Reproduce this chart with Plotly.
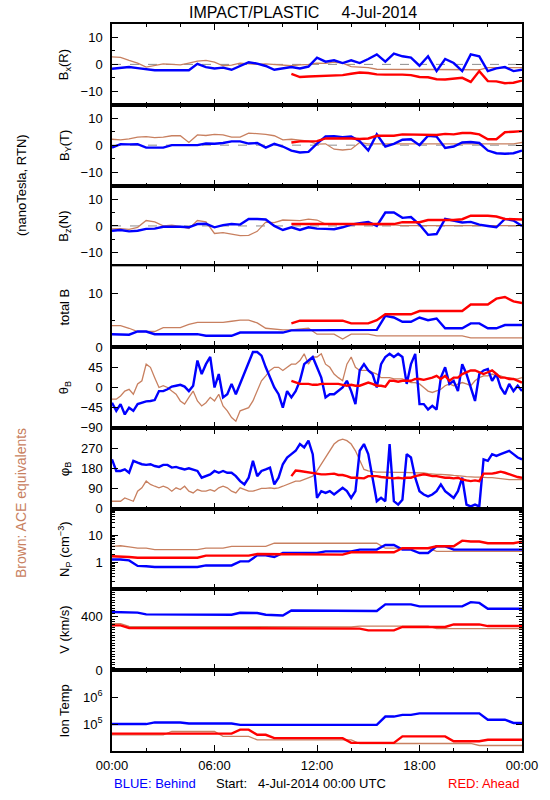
import plotly.graph_objects as go
from plotly.subplots import make_subplots

# ---------------- data (hours since 00:00 UTC, 4-Jul-2014) ----------------
HOURS = [h / 2 for h in range(49)]      # half-hourly samples
HOURS_Q = [h / 4 for h in range(97)]    # quarter-hourly samples (angle panels)
NO_MAG = [None] * 21                    # Ahead magnetic data missing before ~10:30
NO_MAG_Q = [None] * 42

BX_BLUE = [-1.6, -1.2, -1.0, -1.4, -1.8, -2.2, -2.2, -2.2, -2.2, -2.2, 0.2, -1.0, -1.5, -1.2,
           -2.0, -0.5, 0.8, 0.3, -0.6, -2.0, -1.5, -1.0, -1.5, -0.8, 2.5, 1.0, 1.5, 0.5, 1.5,
           0.5, 2.0, 3.7, 1.0, 4.0, 3.0, 2.5, -0.5, 3.0, -2.5, 2.0, 0.5, -2.5, 3.7, 3.0, -2.5,
           -1.5, -1.0, -2.5, -2.0]
BX_BROWN = [2.8, 2.6, 1.5, 0.5, -1.0, -0.3, 0.2, 0.0, -0.2, 0.5, 1.2, 1.5, 0.8, -0.5, -0.3, 0.5,
            0.3, 0.0, 0.2, 0.0, -0.3, -0.5, -0.2, 0.0, 0.5, 0.4, 0.8, 0.5, -0.8, -1.0, -1.2,
            -1.8, -1.8, -1.8, -1.8, -1.8, -1.8, -1.8, -2.0, -2.0, -2.0, -2.0, -2.0, -2.0, -1.2,
            -1.2, -1.2, -1.2, -1.2]
BX_RED = NO_MAG + [-3.5, -4.7, -4.5, -4.4, -4.3, -4.3, -4.0, -3.5, -3.0, -3.2, -3.7, -3.8, -3.7,
                   -3.8, -4.0, -4.7, -4.8, -5.5, -5.6, -5.3, -5.0, -6.5, -2.5, -6.2, -6.3, -7.0,
                   -6.8, -6.0]

BY_BLUE = [-0.9, 0.4, 0.3, 0.4, -0.9, -0.8, -0.9, 0.0, 0.0, -0.2, 0.0, 0.6, 0.5, 0.8, 1.4, 1.4,
           0.6, 0.8, -0.9, 0.5, -0.5, -2.0, -2.7, -2.5, 0.6, 3.2, 3.3, 3.0, 3.2, 1.5, -2.0, 4.0,
           -0.5, 0.5, 2.0, 2.2, 0.0, 3.5, 3.2, -1.0, -0.5, 1.0, 1.2, 0.8, -2.0, -3.0, -3.2,
           -3.0, -2.0]
BY_BROWN = [2.2, 2.0, 2.3, 3.0, 3.2, 2.8, 3.0, 3.5, 3.5, 1.0, 3.8, 3.6, 4.0, 3.8, 3.0, 3.0, 4.5,
            4.3, 4.0, 3.5, 2.0, 2.2, 1.8, 1.5, 0.4, 0.5, -1.5, -1.8, -1.5, 1.0, 0.5, 0.5, 0.5,
            0.5, 0.5, 0.5, 0.5, 0.5, 0.5, 0.5, 0.5, 0.5, 0.5, 0.5, 0.5, 0.5, 0.5, 0.5, 1.0]
BY_RED = NO_MAG + [1.0, 1.4, 1.4, 1.5, 2.5, 2.5, 2.7, 2.5, 2.3, 2.5, 3.5, 3.5, 3.5, 4.0, 4.0,
                   4.0, 4.0, 3.8, 4.2, 4.0, 4.5, 4.5, 4.0, 2.2, 2.2, 4.8, 5.0, 5.2]

BZ_BLUE = [-1.8, -1.5, -2.0, -1.8, -1.1, -1.0, -0.3, -0.2, -0.3, -0.5, 0.7, 0.8, -0.5, 0.3, 0.7,
           0.5, 2.6, 2.6, 2.4, 0.0, -1.5, -0.5, -1.5, -0.5, -1.0, -1.1, -1.2, -0.5, 0.5, 1.0,
           1.5, 0.0, 5.0, 5.0, 3.0, 3.3, 0.5, -3.3, -3.0, 2.6, 2.0, 1.3, 1.5, 0.5, 0.0, -0.5,
           2.6, 2.0, 0.0]
BZ_BROWN = [-1.1, -1.0, -1.3, -0.5, 2.0, 1.5, 0.0, 0.3, -0.2, -1.0, 2.0, 1.5, -2.8, -2.5, -3.0,
            -3.6, -3.5, -2.0, 1.4, 1.2, 2.2, 2.2, 2.0, 2.5, 2.2, 0.7, 0.8, 0.7, 0.5, 0.4, 0.4,
            0.4, 0.4, 0.4, 0.1, 0.1, 0.1, 0.1, 0.1, 0.1, 0.1, 0.1, 0.1, 0.1, 0.1, 0.1, 0.1, 0.1,
            0.1]
BZ_RED = NO_MAG + [0.7, 0.7, 0.7, 0.7, 0.7, 0.7, 0.7, 0.7, 0.7, 0.7, 0.7, 0.7, 0.7, 1.4, 1.4,
                   1.4, 2.2, 2.2, 2.0, 2.2, 2.5, 3.8, 3.8, 3.8, 3.5, 2.6, 2.5, 2.4]

BT_BLUE = [2.4, 2.4, 2.3, 2.9, 2.9, 2.4, 2.4, 2.4, 2.4, 2.4, 2.4, 2.1, 2.1, 2.1, 2.1, 2.7, 2.7,
           2.7, 2.7, 2.7, 2.7, 3.1, 3.1, 3.1, 3.1, 3.1, 3.1, 3.2, 3.2, 3.2, 3.2, 3.2, 5.8, 5.5,
           4.7, 4.7, 5.5, 5.0, 5.3, 3.5, 3.5, 3.5, 4.4, 4.4, 3.5, 3.5, 4.1, 4.1, 4.1]
BT_BROWN = [4.0, 4.0, 3.5, 2.9, 2.9, 2.9, 3.6, 3.6, 3.6, 4.2, 4.6, 4.6, 4.6, 4.6, 4.8, 5.0, 5.0,
            4.5, 3.5, 3.3, 3.2, 3.2, 3.3, 3.5, 2.4, 2.4, 2.4, 1.5, 2.4, 2.4, 2.4, 2.1, 2.1, 2.1,
            2.1, 2.1, 2.1, 2.1, 2.1, 2.1, 2.1, 2.1, 1.7, 1.7, 1.7, 1.7, 1.7, 1.7, 1.7]
BT_RED = NO_MAG + [4.4, 4.9, 4.9, 4.9, 4.9, 4.9, 4.9, 4.4, 4.4, 4.4, 5.0, 6.1, 6.1, 6.1, 6.1,
                   6.7, 6.7, 6.7, 6.7, 6.7, 6.7, 7.9, 7.9, 7.9, 9.0, 9.3, 8.5, 8.2]

# quarter-hourly angle data
TH_BLUE = [-34, -52, -37, -60, -45, -52, -37, -34, -31, -30, -28, -8, -8, -4, 2, 4,
           6, 2, -8, 4, 60, 30, 52, 68, 0, 30, -22, -15, 8, -15, 8, 30,
           52, 79, 79, 71, 45, 22, 0, -15, -45, -8, -22, -8, 15, 52, 60, 68,
           45, 22, -22, -15, -15, -8, 0, 15, -8, -37, 38, 52, 38, 30, 0, 52,
           68, 75, 68, 75, 68, 8, 52, 75, -37, -37, -49, -41, -49, 22, 45, 8,
           15, -8, 52, 30, 0, -30, 30, 38, 41, 15, 30, 0, -15, 8, -8, 4, -8]
TH_BROWN = [-26, -26, -19, -8, -4, -15, 8, 15, 52, 45, 22, 0, 4, 0, -8, -15,
            -30, -37, -22, -8, -30, -41, -34, -22, -30, -15, -41, -52, -67, -75, -52, -49,
            -45, -30, -8, 15, 26, 38, 45, 45, 38, 45, 52, 52, 60, 75, 52, 68,
            68, 75, 52, 45, 30, 22, 15, 52, 68, 45, 38, 38, 38, 34, 30, 22,
            22, 22, 19, 19, 19, 15, 11, 11, 8, 0, -8, -11, -8, -4, 4, 8,
            4, 8, 11, 8, 4, 15, 22, 26, 26, 30, 26, 26, 22, 22, 19, 19, 22]
TH_RED = NO_MAG_Q + [15, 11, 8, 8, 8, 6, 6, 8, 8, 9, 9, 8, 6, 4, 6, 4, 4, 8, 11, 8, 4, 4,
                     2, 15, 15, 13, 15, 15, 15, 19, 19, 17, 19, 22, 26, 19, 26, 15,
                     22, 22, 30, 34, 38, 38, 34, 30, 34, 38, 30, 22, 22, 19, 19, 15, 11]

PH_BLUE = [220, 168, 168, 175, 160, 213, 205, 198, 195, 198, 190, 186, 195, 195, 183, 186,
           180, 175, 180, 175, 168, 138, 145, 153, 168, 160, 168, 160, 160, 145, 123, 108,
           138, 213, 145, 168, 175, 183, 108, 138, 198, 228, 243, 258, 288, 273, 303, 243,
           48, 78, 70, 78, 63, 78, 93, 78, 48, 78, 258, 288, 243, 138, 33, 48,
           33, 288, 33, 18, 40, 243, 228, 138, 78, 63, 55, 63, 78, 108, 78, 63,
           48, 78, 138, 18, 10, 18, 10, 220, 213, 243, 235, 243, 250, 258, 243, 228, 220]
PH_BROWN = [33, 33, 33, 48, 40, 33, 78, 93, 123, 108, 100, 93, 100, 93, 78, 93,
            85, 100, 78, 70, 85, 78, 78, 85, 78, 93, 100, 93, 78, 70, 93, 85,
            78, 78, 85, 90, 90, 93, 90, 93, 100, 108, 115, 123, 123, 130, 138, 145,
            168, 198, 228, 258, 288, 303, 310, 303, 288, 258, 213, 175, 168, 165, 163, 163,
            162, 162, 162, 162, 162, 162, 162, 162, 160, 159, 156, 153, 153, 153, 150, 150,
            148, 145, 145, 143, 141, 141, 141, 138, 138, 138, 135, 132, 130, 129, 129, 130,
            130]
PH_RED = NO_MAG_Q + [145, 170, 168, 165, 160, 160, 156, 153, 153, 153, 156, 150, 150, 145,
                     138, 138, 135, 135, 145, 145, 145, 141, 138, 135, 135, 138, 135, 138,
                     138, 145, 150, 153, 150, 145, 145, 141, 138, 138, 135, 138, 130, 126,
                     123, 126, 123, 156, 156, 156, 160, 165, 160, 153, 145, 141, 138]

NP_BLUE = [1.3, 1.3, 1.2, 0.75, 0.73, 0.68, 0.68, 0.68, 0.68, 0.68, 0.68, 0.78, 0.78, 0.78, 0.78,
           1.1, 1.1, 1.85, 1.85, 1.6, 2.25, 2.25, 2.25, 2.25, 2.25, 2.6, 2.6, 2.6, 2.6, 3.0, 3.0,
           3.0, 4.5, 4.5, 3.0, 3.0, 2.25, 2.25, 4.0, 4.0, 3.0, 3.0, 3.0, 3.0, 3.0, 3.0, 3.0, 3.0,
           3.0]
NP_RED = [1.7, 1.7, 1.6, 1.5, 1.5, 1.5, 1.5, 1.5, 1.5, 1.5, 1.5, 1.8, 1.8, 1.8, 1.8, 1.8, 1.8,
          2.07, 2.07, 2.07, 1.96, 1.96, 1.96, 1.96, 1.96, 1.96, 1.96, 1.96, 2.4, 2.4, 2.4, 2.4,
          2.4, 2.4, 3.4, 3.4, 3.4, 3.4, 4.0, 4.0, 4.0, 6.5, 6.0, 6.0, 5.2, 5.2, 5.2, 5.2, 6.0]
NP_BROWN = [4.0, 4.2, 3.8, 3.4, 3.4, 3.0, 3.0, 3.0, 3.0, 3.0, 3.0, 3.4, 3.4, 3.4, 4.0, 4.0, 4.0,
            4.0, 4.0, 5.2, 5.2, 5.2, 5.2, 5.2, 5.2, 5.2, 5.2, 5.2, 5.2, 5.2, 5.2, 5.2, 3.4, 3.4,
            3.4, 3.4, 3.4, 3.4, 2.6, 2.6, 2.6, 2.6, 2.6, 2.6, 2.6, 2.6, 2.6, 2.6, 2.6]

V_BLUE = [432, 432, 430, 428, 415, 415, 415, 415, 415, 412, 412, 412, 412, 412, 412, 427, 427,
          425, 412, 412, 407, 444, 444, 444, 444, 440, 440, 440, 440, 440, 440, 440, 489, 489,
          489, 489, 474, 474, 474, 474, 474, 474, 506, 500, 457, 457, 457, 457, 457]
V_RED = [333, 333, 314, 314, 314, 314, 314, 314, 314, 314, 314, 314, 314, 314, 314, 314, 314,
         314, 314, 309, 309, 309, 309, 309, 309, 309, 309, 309, 309, 309, 296, 296, 296, 296,
         321, 321, 321, 321, 321, 321, 340, 340, 340, 340, 328, 328, 328, 328, 328]
V_BROWN = [346, 346, 326, 326, 326, 326, 326, 326, 326, 326, 326, 326, 326, 326, 326, 326, 326,
           326, 326, 321, 321, 321, 321, 321, 321, 321, 321, 321, 321, 328, 328, 328, 328, 328,
           328, 328, 328, 328, 309, 309, 309, 309, 309, 309, 309, 309, 309, 309, 309]

T_BLUE = [1.0e5, 1.0e5, 1.0e5, 1.0e5, 1.0e5, 1.15e5, 1.15e5, 1.15e5, 1.15e5, 1.05e5, 1.05e5,
          1.05e5, 1.05e5, 1.05e5, 1.05e5, 0.93e5, 0.93e5, 0.93e5, 0.93e5, 0.93e5, 0.93e5,
          0.93e5, 0.93e5, 0.93e5, 0.93e5, 0.93e5, 0.93e5, 0.93e5, 0.93e5, 0.93e5, 0.93e5,
          0.93e5, 1.9e5, 1.9e5, 2.2e5, 2.2e5, 2.5e5, 2.5e5, 2.5e5, 2.5e5, 2.5e5, 2.5e5, 2.5e5,
          2.5e5, 1.45e5, 1.45e5, 1.45e5, 1.1e5, 1.1e5]
T_RED = [4.4e4, 4.4e4, 4.4e4, 4.4e4, 4.4e4, 4.4e4, 4.4e4, 4.4e4, 4.4e4, 4.4e4, 4.4e4, 4.4e4,
         4.4e4, 4.4e4, 4.4e4, 6.2e4, 6.2e4, 4.0e4, 4.0e4, 3.0e4, 3.0e4, 3.0e4, 3.0e4, 3.0e4,
         3.0e4, 3.0e4, 3.0e4, 3.0e4, 2.0e4, 2.0e4, 2.0e4, 2.0e4, 2.0e4, 2.0e4, 3.5e4, 3.5e4,
         3.5e4, 3.5e4, 3.5e4, 3.5e4, 2.3e4, 2.3e4, 2.3e4, 2.3e4, 2.6e4, 2.6e4, 2.6e4, 2.6e4,
         2.6e4]
T_BROWN = [4.0e4, 4.0e4, 4.0e4, 4.0e4, 4.0e4, 4.0e4, 4.0e4, 5.3e4, 5.3e4, 5.3e4, 5.3e4, 5.3e4,
           5.3e4, 3.5e4, 3.5e4, 3.5e4, 3.5e4, 2.6e4, 2.6e4, 2.6e4, 2.6e4, 2.6e4, 2.6e4, 2.6e4,
           2.6e4, 2.6e4, 2.6e4, 2.6e4, 2.6e4, 1.9e4, 1.9e4, 1.9e4, 1.9e4, 1.9e4, 1.9e4, 1.9e4,
           1.9e4, 1.9e4, 1.9e4, 1.9e4, 1.9e4, 1.9e4, 1.9e4, 1.6e4, 1.6e4, 1.6e4, 1.6e4, 1.6e4,
           1.6e4]

X_TICKS = [0, 6, 12, 18, 24]
X_TICK_LABELS = ["00:00", "06:00", "12:00", "18:00", "00:00"]
NP_MINOR_TICKS = [0.2, 0.3, 0.4, 0.5, 0.6, 0.7, 0.8, 0.9, 2, 3, 4, 5, 6, 7, 8, 9,
                  20, 30, 40, 50, 60, 70, 80, 90]

# ---------------- styling ----------------
BLUE = "#0000FF"
RED = "#FF0000"
BROWN = "rgb(200,128,96)"
FONT = "Liberation Sans, Arial, sans-serif"
MINUS = "\u2212"

panels = [
    dict(label="B<sub>x</sub>(R)", x=HOURS, blue=BX_BLUE, red=BX_RED, brown=BX_BROWN,
         rng=[-15, 15], tv=[-10, 0, 10], tt=[MINUS + "10", "0", "10"],
         minor=dict(tick0=0, dtick=5), zero=True),
    dict(label="B<sub>Y</sub>(T)", x=HOURS, blue=BY_BLUE, red=BY_RED, brown=BY_BROWN,
         rng=[-15, 15], tv=[-10, 0, 10], tt=[MINUS + "10", "0", "10"],
         minor=dict(tick0=0, dtick=5), zero=True),
    dict(label="B<sub>z</sub>(N)", x=HOURS, blue=BZ_BLUE, red=BZ_RED, brown=BZ_BROWN,
         rng=[-15, 15], tv=[-10, 0, 10], tt=[MINUS + "10", "0", "10"],
         minor=dict(tick0=0, dtick=5), zero=True),
    dict(label="total B", x=HOURS, blue=BT_BLUE, red=BT_RED, brown=BT_BROWN, rng=[0, 15],
         tv=[0, 10], tt=["0", "10"], minor=dict(tick0=0, dtick=5)),
    dict(label="\u03b8<sub>B</sub>", x=HOURS_Q, blue=TH_BLUE, red=TH_RED, brown=TH_BROWN,
         rng=[-90, 90], tv=[-90, -45, 0, 45], tt=[MINUS + "90", MINUS + "45", "0", "45"],
         minor=None),
    dict(label="\u03c6<sub>B</sub>", x=HOURS_Q, blue=PH_BLUE, red=PH_RED, brown=PH_BROWN,
         rng=[0, 360], tv=[0, 90, 180, 270], tt=["0", "90", "180", "270"], minor=None),
    dict(label="N<sub>P</sub> (cm<sup>" + MINUS + "3</sup>)", x=HOURS, blue=NP_BLUE,
         red=NP_RED, brown=NP_BROWN, rng=[-1, 2], tv=[1, 10], tt=["1", "10"], log=True,
         minor=dict(tickmode="array", tickvals=NP_MINOR_TICKS)),
    dict(label="V (km/s)", x=HOURS, blue=V_BLUE, red=V_RED, brown=V_BROWN, rng=[0, 600],
         tv=[0, 400], tt=["0", "400"], minor=dict(tick0=0, dtick=20)),
    dict(label="Ion Temp", x=HOURS, blue=T_BLUE, red=T_RED, brown=T_BROWN, rng=[4, 7],
         tv=[1e5, 1e6], tt=["10<sup>5</sup>", "10<sup>6</sup>"], log=True, minor=None),
]

N = len(panels)
for p in panels:
    for k in ("blue", "red", "brown"):
        assert len(p[k]) == len(p["x"]), (p["label"], k, len(p[k]))

fig = make_subplots(rows=N, cols=1, shared_xaxes=True, vertical_spacing=0)

for i, p in enumerate(panels, start=1):
    fig.add_trace(go.Scatter(x=p["x"], y=p["brown"], mode="lines",
                             line=dict(color=BROWN, width=1.3), hoverinfo="skip"),
                  row=i, col=1)
    fig.add_trace(go.Scatter(x=p["x"], y=p["blue"], mode="lines",
                             line=dict(color=BLUE, width=2.4), hoverinfo="skip"),
                  row=i, col=1)
    fig.add_trace(go.Scatter(x=p["x"], y=p["red"], mode="lines",
                             line=dict(color=RED, width=2.4), hoverinfo="skip"),
                  row=i, col=1)
    if p.get("zero"):
        fig.add_hline(y=0, row=i, col=1, layer="below",
                      line=dict(color="rgb(140,140,140)", width=1, dash="dash"))

    yaxis = dict(range=p["rng"], tickmode="array", tickvals=p["tv"], ticktext=p["tt"],
                 ticks="inside", ticklen=6, tickwidth=1, tickcolor="black",
                 showline=True, linecolor="black", linewidth=1.5, mirror="allticks",
                 showgrid=False, zeroline=False, ticklabelstandoff=5,
                 tickfont=dict(family=FONT, size=13, color="black"))
    if p.get("log"):
        yaxis["type"] = "log"
    if p["minor"]:
        m = dict(ticks="inside", ticklen=3, tickcolor="black", showgrid=False)
        m.update(p["minor"])
        yaxis["minor"] = m
    fig.update_yaxes(row=i, col=1, **yaxis)

    fig.update_xaxes(row=i, col=1, range=[0, 24], tickmode="array", tickvals=X_TICKS,
                     ticktext=X_TICK_LABELS, ticks="inside", ticklen=6, tickcolor="black",
                     showline=True, linecolor="black", linewidth=1.5, mirror="allticks",
                     showgrid=False, zeroline=False, showticklabels=(i == N),
                     ticklabelstandoff=2,
                     tickfont=dict(family=FONT, size=13, color="black"),
                     minor=dict(tickmode="linear", tick0=0, dtick=2, ticks="inside",
                                ticklen=3, tickcolor="black", showgrid=False))

    yref = "y domain" if i == 1 else "y%d domain" % i
    fig.add_annotation(text=p["label"], xref="paper", yref=yref, x=-0.115, y=0.5,
                       textangle=-90, showarrow=False, xanchor="center", yanchor="middle",
                       font=dict(family=FONT, size=13, color="black"))

# titles and captions
fig.add_annotation(text="IMPACT/PLASTIC     4-Jul-2014", xref="paper", yref="paper",
                   x=0.466, y=1.0165, showarrow=False, xanchor="center", yanchor="middle",
                   font=dict(family=FONT, size=16, color="black"))
fig.add_annotation(text="(nanoTesla, RTN)", xref="paper", yref="paper", x=-0.222, y=0.7785,
                   textangle=-90, showarrow=False, xanchor="center", yanchor="middle",
                   font=dict(family=FONT, size=13, color="black"))
fig.add_annotation(text="Brown: ACE equivalents", xref="paper", yref="paper", x=-0.222,
                   y=0.341, textangle=-90, showarrow=False, xanchor="center",
                   yanchor="middle", font=dict(family=FONT, size=14, color=BROWN))
fig.add_annotation(text="BLUE: Behind", xref="paper", yref="paper", x=0.0, y=-0.0445,
                   showarrow=False, xanchor="left", yanchor="middle",
                   font=dict(family=FONT, size=13, color=BLUE))
fig.add_annotation(text="Start:   4-Jul-2014 00:00 UTC", xref="paper", yref="paper",
                   x=0.249, y=-0.0445, showarrow=False, xanchor="left", yanchor="middle",
                   font=dict(family=FONT, size=13, color="black"))
fig.add_annotation(text="RED: Ahead", xref="paper", yref="paper", x=1.0, y=-0.0445,
                   showarrow=False, xanchor="right", yanchor="middle",
                   font=dict(family=FONT, size=13, color=RED))

fig.update_layout(width=550, height=800, showlegend=False,
                  margin=dict(l=112, r=24, t=24, b=49),
                  paper_bgcolor="white", plot_bgcolor="white",
                  font=dict(family=FONT, size=13, color="black"))

fig.write_html("out.html", config={"displayModeBar": False},
               post_script="document.body.style.margin='0px';")
